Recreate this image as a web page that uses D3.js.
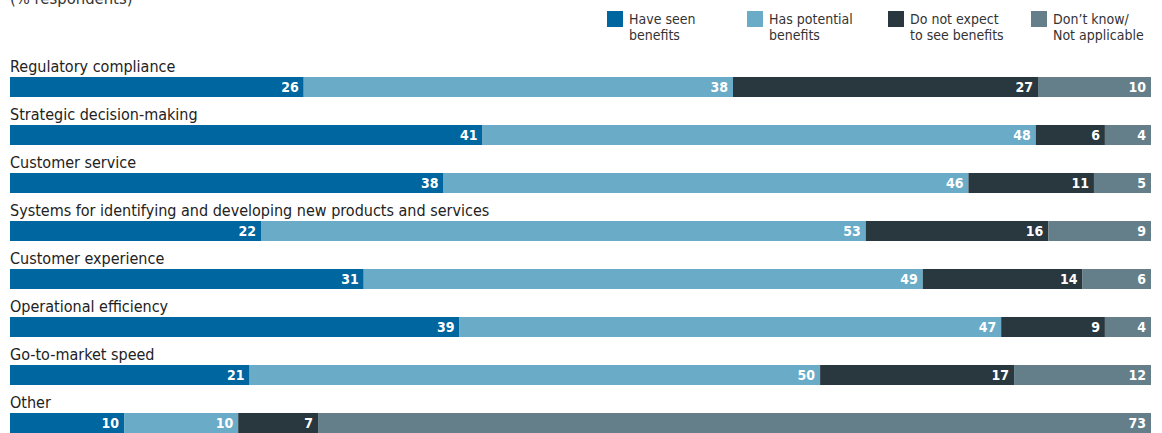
<!DOCTYPE html>
<html><head><meta charset="utf-8">
<script src="https://cdn.jsdelivr.net/npm/d3@7"></script>
<style>
html,body{margin:0;padding:0;background:#fff;}
svg{display:block;font-family:"DejaVu Sans Condensed","DejaVu Sans",sans-serif;}
</style></head>
<body><svg id="c" width="1162" height="433"></svg>
<script>
const categories = ["Regulatory compliance","Strategic decision-making","Customer service","Systems for identifying and developing new products and services","Customer experience","Operational efficiency","Go-to-market speed","Other"];
const seriesNames = [["Have seen","benefits"],["Has potential","benefits"],["Do not expect","to see benefits"],["Don\u2019t know/","Not applicable"]];
const haveSeen   = [26,41,38,22,31,39,21,10];
const potential  = [38,48,46,53,49,47,50,10];
const notExpect  = [27,6,11,16,14,9,17,7];
const dontKnow   = [10,4,5,9,6,4,12,73];
const colors = ["#00669f","#6aabc8","#29373f","#647e8a"];
const series = [haveSeen, potential, notExpect, dontKnow];

const svg = d3.select("#c");
const x = d3.scaleLinear().domain([0,1]).range([10,1151]);
const y = d3.scaleBand().domain(categories).range([77, 77+48*categories.length]);
const barH = 20;

svg.append("text").attr("x",10).attr("y",4).attr("font-size",16.5).attr("fill","#333").text("(% respondents)");

// legend
const legX = [607,747,888,1031];
seriesNames.forEach((n,i)=>{
  const g = svg.append("g");
  g.append("rect").attr("x",legX[i]).attr("y",11).attr("width",16).attr("height",16).attr("fill",colors[i]);
  const t = g.append("text").attr("x",legX[i]+22).attr("y",24).attr("font-size",14).attr("fill","#333");
  t.append("tspan").attr("x",legX[i]+22).attr("dy",0).text(n[0]);
  t.append("tspan").attr("x",legX[i]+22).attr("dy",16).text(n[1]);
});

categories.forEach((c,r)=>{
  const vals = series.map(s=>s[r]);
  const total = d3.sum(vals);
  let cum = 0;
  const top = y(c);
  svg.append("text").attr("x",10).attr("y",top-5).attr("font-size",16).attr("fill","#222").text(c);
  vals.forEach((v,i)=>{
    const x0 = x(cum/total); cum += v; const x1 = x(cum/total);
    svg.append("rect").attr("x",x0).attr("y",top).attr("width",x1-x0).attr("height",barH).attr("fill",colors[i]);
    svg.append("text").attr("x",x1-5).attr("y",top+15).attr("text-anchor","end")
      .attr("font-size",14).attr("font-weight","bold").attr("fill","#fff").text(v);
  });
});
</script></body></html>
